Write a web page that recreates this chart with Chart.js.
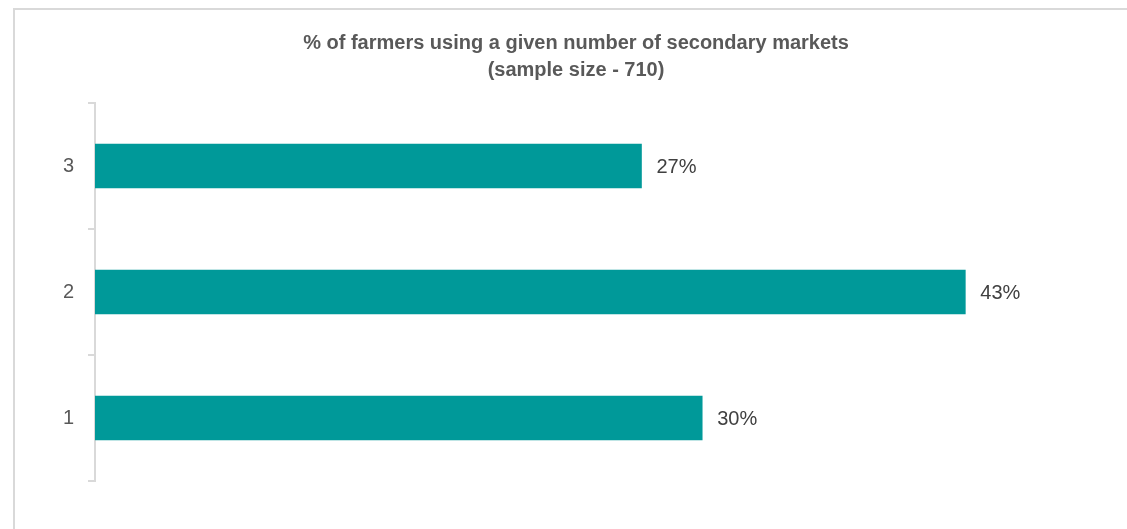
<!DOCTYPE html>
<html>
<head>
<meta charset="utf-8">
<script src="https://cdn.jsdelivr.net/npm/chart.js@4"></script>
<style>
  body { margin: 0; background: #fff; }
  #wrap { position: relative; width: 1127px; height: 529px; overflow: hidden; }
  #frame {
    position: absolute; left: 13px; top: 8px; width: 1200px; height: 600px;
    border: 2px solid #d9d9d9; box-sizing: border-box;
  }
  #chart { position: absolute; left: 0; top: 0; }
</style>
</head>
<body>
<div id="wrap">
  <div id="frame"></div>
  <canvas id="chart" width="1127" height="529"></canvas>
</div>
<script>
// number of secondary markets used, top to bottom
let markets = ["3", "2", "1"];
// share of farmers (%)
let farmerShare = [27, 43, 30];

let titleLines = [
    "% of farmers using a given number of secondary markets",
    "(sample size - 710)"
];

let fontFamily = "'Liberation Sans', Arial, sans-serif";

// Value labels at the end of each bar
const barLabels = {
    id: "barLabels",
    afterDatasetsDraw(chart) {
        let ctx = chart.ctx;
        let meta = chart.getDatasetMeta(0);
        ctx.save();
        ctx.font = "20px " + fontFamily;
        ctx.fillStyle = "#404040";
        ctx.textAlign = "left";
        ctx.textBaseline = "middle";
        meta.data.forEach((bar, i) => {
            ctx.fillText(farmerShare[i] + "%", bar.x + 15, bar.y + 1);
        });
        ctx.restore();
    }
};

let ctx = document.getElementById("chart").getContext("2d");

let chart = new Chart(ctx, {
    type: "bar",
    data: {
        labels: markets,
        datasets: [{
            data: farmerShare,
            backgroundColor: "#009999",
            borderWidth: 0,
            barThickness: 44
        }]
    },
    options: {
        indexAxis: "y",
        responsive: false,
        animation: false,
        layout: {
            padding: { left: 45, right: 20, top: 0, bottom: 48 }
        },
        plugins: {
            legend: { display: false },
            tooltip: { enabled: false },
            title: {
                display: true,
                text: titleLines,
                color: "#595959",
                font: { family: fontFamily, size: 20, weight: "bold", lineHeight: 1.35 },
                padding: { top: 30, bottom: 19 }
            }
        },
        scales: {
            x: {
                display: false,
                min: 0,
                max: 50
            },
            y: {
                afterFit(scale) { scale.width = 50; },
                border: { display: true, color: "#d9d9d9", width: 2 },
                grid: {
                    display: true,
                    drawOnChartArea: false,
                    drawTicks: true,
                    tickLength: 7,
                    color: "#d9d9d9",
                    lineWidth: 2
                },
                ticks: {
                    color: "#595959",
                    padding: 14,
                    font: { family: fontFamily, size: 20 }
                }
            }
        }
    },
    plugins: [barLabels]
});
</script>
</body>
</html>
